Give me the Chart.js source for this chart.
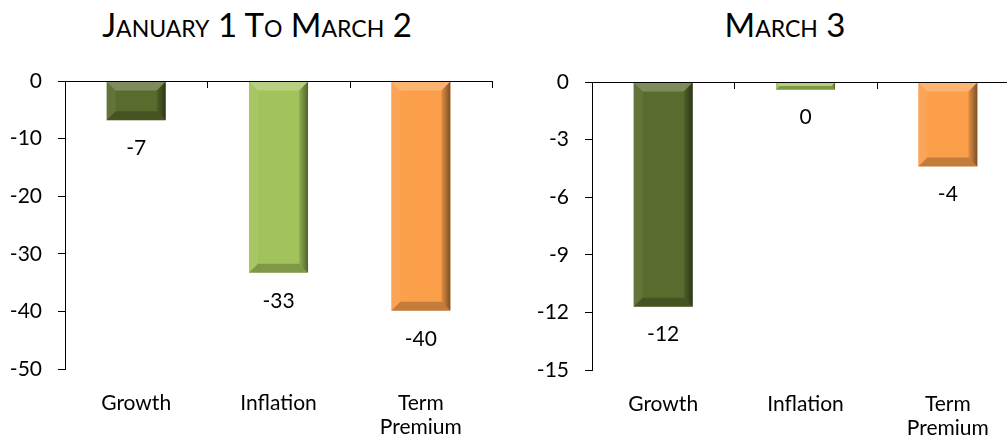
<!DOCTYPE html>
<html>
<head>
<meta charset="utf-8">
<script src="https://cdn.jsdelivr.net/npm/chart.js@4.4.1/dist/chart.umd.min.js"></script>
<style>
  html, body { margin: 0; padding: 0; background: #fff; }
  body { width: 1007px; height: 439px; position: relative; overflow: hidden; font-family: Lato, sans-serif; }
  canvas { position: absolute; top: 0; }
  #grafico_izq { left: 0; }
  #grafico_der { left: 520px; }
  .titulo { position: absolute; top: 4px; font-size: 33px; font-variant: small-caps; color: #000; white-space: nowrap; transform: translateX(-50%); }
  #titulo_izq { left: 257px; }
  #titulo_der { left: 785px; }
</style>
</head>
<body>
<div class="titulo" id="titulo_izq">January 1 To March 2</div>
<div class="titulo" id="titulo_der">March 3</div>
<canvas id="grafico_izq" width="510" height="439"></canvas>
<canvas id="grafico_der" width="520" height="439"></canvas>
<script>
// Categories shared by both charts
const categories = ['Growth', 'Inflation', ['Term', 'Premium']];

// Values
const janToMarchValues = [-6.8, -33.3, -39.9];
const march3Values = [-11.7, -0.4, -4.4];

// Axis ranges
const janToMarchAxis = { min: -50, max: 0, step: 10 };
const march3Axis = { min: -15, max: 0, step: 3 };

// Bar colours
const barColors = ['#5a6c2d', '#a2c35c', '#fb9f4b'];

const fontFamily = 'Lato, sans-serif';
const fontSize = 21;

// Draws the zero line with its small category ticks
const zeroLinePlugin = {
  id: 'zeroLine',
  afterDraw(chart) {
    const { ctx, chartArea, scales } = chart;
    const y0 = scales.y.getPixelForValue(0);
    const n = chart.data.labels.length;
    const step = (scales.x.getPixelForValue(1) - scales.x.getPixelForValue(0));
    ctx.save();
    ctx.strokeStyle = '#000';
    ctx.lineWidth = 1;
    ctx.beginPath();
    ctx.moveTo(chartArea.left, Math.round(y0) + 0.5);
    ctx.lineTo(chartArea.right, Math.round(y0) + 0.5);
    for (let i = 1; i <= n; i++) {
      const x = Math.round(scales.x.getPixelForValue(i - 1) + step / 2) + 0.5;
      ctx.moveTo(x, y0);
      ctx.lineTo(x, y0 + 7);
    }
    ctx.stroke();
    ctx.restore();
  }
};

// Bevel effect on the bars and the value labels under them
const bevelPlugin = {
  id: 'bevel',
  afterDatasetsDraw(chart) {
    const { ctx } = chart;
    const meta = chart.getDatasetMeta(0);
    const values = chart.data.datasets[0].data;
    ctx.save();
    meta.data.forEach((bar, i) => {
      const l = bar.x - bar.width / 2;
      const r = bar.x + bar.width / 2;
      const t = Math.min(bar.y, bar.base);
      const b = Math.max(bar.y, bar.base);
      const s = Math.min(9, (b - t) / 2, bar.width / 2);

      const poly = (pts, fill) => {
        ctx.beginPath();
        ctx.moveTo(pts[0][0], pts[0][1]);
        pts.slice(1).forEach(p => ctx.lineTo(p[0], p[1]));
        ctx.closePath();
        ctx.fillStyle = fill;
        ctx.fill();
      };
      // right side fades to dark at the outer edge
      const side = ctx.createLinearGradient(r - s, 0, r, 0);
      side.addColorStop(0, 'rgba(0,0,0,0.1)');
      side.addColorStop(1, 'rgba(0,0,0,0.5)');
      poly([[l, t], [r, t], [r - s, t + s], [l + s, t + s]], 'rgba(255,255,255,0.22)');
      poly([[l, t], [l + s, t + s], [l + s, b - s], [l, b]], 'rgba(255,255,255,0.06)');
      poly([[r, t], [r, b], [r - s, b - s], [r - s, t + s]], side);
      poly([[l, b], [r, b], [r - s, b - s], [l + s, b - s]], 'rgba(0,0,0,0.22)');

      // value label below the bar
      ctx.fillStyle = '#000';
      ctx.font = fontSize + 'px ' + fontFamily;
      ctx.textAlign = 'center';
      ctx.textBaseline = 'middle';
      const label = String(Math.round(values[i]) || 0);
      ctx.fillText(label, bar.x, b + 28);
    });
    ctx.restore();
  }
};

function buildChart(canvasId, values, axis, yWidth, xHeight, padding) {
  const ctx = document.getElementById(canvasId);
  return new Chart(ctx, {
    type: 'bar',
    data: {
      labels: categories,
      datasets: [{
        data: values,
        backgroundColor: barColors,
        borderWidth: 0,
        categoryPercentage: 1,
        barPercentage: 0.415
      }]
    },
    options: {
      responsive: false,
      animation: false,
      layout: { padding: padding },
      plugins: {
        legend: { display: false },
        tooltip: { enabled: false }
      },
      scales: {
        x: {
          grid: { display: false },
          border: { display: false },
          ticks: {
            color: '#000',
            padding: 14,
            maxRotation: 0,
            font: { family: fontFamily, size: fontSize, lineHeight: 1.15 }
          },
          afterFit(scale) { scale.height = xHeight; }
        },
        y: {
          min: axis.min,
          max: axis.max,
          grid: {
            drawOnChartArea: false,
            drawTicks: true,
            tickLength: 7,
            color: '#000'
          },
          border: { display: true, color: '#000', width: 1 },
          ticks: {
            stepSize: axis.step,
            color: '#000',
            padding: 16,
            font: { family: fontFamily, size: fontSize }
          },
          afterFit(scale) { scale.width = yWidth; }
        }
      }
    },
    plugins: [zeroLinePlugin, bevelPlugin]
  });
}

buildChart('grafico_izq', janToMarchValues, janToMarchAxis, 65, 70, { top: 81, right: 18, left: 0, bottom: 0 });
buildChart('grafico_der', march3Values, march3Axis, 72, 69, { top: 82, right: 21, left: 0, bottom: 0 });
</script>
</body>
</html>
